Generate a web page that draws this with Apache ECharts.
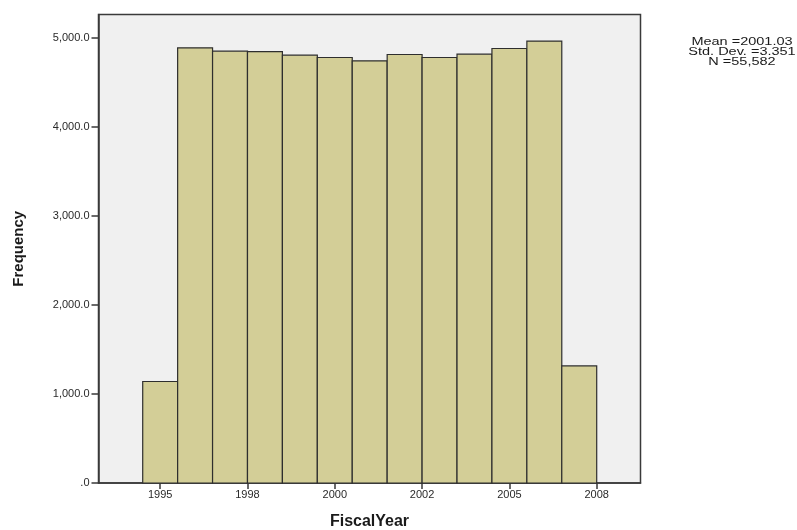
<!DOCTYPE html>
<html>
<head>
<meta charset="utf-8">
<script src="https://cdn.jsdelivr.net/npm/echarts@6/dist/echarts.min.js"></script>
<style>
html,body{margin:0;padding:0;background:#fff;}
#chart{width:797px;height:530px;}
</style>
</head>
<body>
<div id="chart"></div>
<script>
// Histogram bins (one per fiscal year) and their frequencies
var binYears = [1995,1996,1997,1998,1999,2000,2001,2002,2003,2004,2005,2006,2007];
var frequencies = [1140,4888,4850,4846,4805,4779,4742,4813,4779,4816,4880,4963,1315];
var binWidth = 1;

// X-axis tick positions and their labels (as shown in the original)
var xTickValues = [1995,1997.5,2000,2002.5,2005,2007.5];
var xTickLabels = ['1995','1998','2000','2002','2005','2008'];

// Y-axis ticks
var yTickValues = [0,1000,2000,3000,4000,5000];
var yTickLabels = ['.0','1,000.0','2,000.0','3,000.0','4,000.0','5,000.0'];

// Statistics box
var statLines = ['Mean =2001.03','Std. Dev. =3.351','N =55,582'];

var data = binYears.map(function(y,i){ return [y - binWidth/2, y + binWidth/2, frequencies[i]]; });

var chart = echarts.init(document.getElementById('chart'), null, {renderer:'canvas'});
var font = '"Liberation Sans", Arial, sans-serif';

var statGraphics = statLines.map(function(t,i){
  return {type:'text', x:742, y:42 + i*10, scaleX:1.45, scaleY:1,
    style:{text:t, fontFamily:font, fontSize:10, fill:'#1a1a1a', align:'center', verticalAlign:'middle'}};
});

chart.setOption({
  animation:false,
  backgroundColor:'#ffffff',
  grid:{left:98.5, right:156.5, top:14.5, bottom:47, show:true, outerBoundsMode:'none', containLabel:false,
    backgroundColor:'#f0f0f0', borderColor:'#3a3a3a', borderWidth:1.5},
  xAxis:{
    type:'value', min:1993.234, max:2008.754,
    name:'FiscalYear', nameLocation:'middle', nameGap:31,
    nameTextStyle:{fontFamily:font, fontSize:16, fontWeight:'bold', color:'#1a1a1a', verticalAlign:'top', padding:[0,0,0,0]},
    splitLine:{show:false},
    axisLine:{show:true, onZero:false, lineStyle:{color:'#3a3a3a', width:1.5}},
    axisTick:{show:true, customValues:xTickValues, length:6, inside:false, lineStyle:{color:'#3a3a3a', width:1.5}},
    axisLabel:{customValues:xTickValues, margin:6, fontFamily:font, fontSize:11, color:'#2a2a2a',
      formatter:function(v){ var i = xTickValues.indexOf(v); return i>=0 ? xTickLabels[i] : ''; }}
  },
  yAxis:{
    type:'value', min:0, max:5262,
    name:'Frequency', nameLocation:'middle', nameGap:72, nameRotate:90,
    nameTextStyle:{fontFamily:font, fontSize:15, fontWeight:'bold', color:'#1a1a1a'},
    splitLine:{show:false},
    axisLine:{show:true, lineStyle:{color:'#3a3a3a', width:1.5}},
    axisTick:{show:true, customValues:yTickValues, length:7, lineStyle:{color:'#3a3a3a', width:1.5}},
    axisLabel:{customValues:yTickValues, margin:9, fontFamily:font, fontSize:11, color:'#2a2a2a',
      formatter:function(v){ var i = yTickValues.indexOf(v); return i>=0 ? yTickLabels[i] : ''; }}
  },
  graphic:statGraphics,
  series:[{
    type:'custom',
    data:data,
    encode:{x:[0,1], y:2},
    renderItem:function(params, api){
      var p0 = api.coord([api.value(0), api.value(2)]);
      var p1 = api.coord([api.value(1), 0]);
      return {type:'rect', shape:{x:p0[0], y:p0[1], width:p1[0]-p0[0], height:p1[1]-p0[1]},
        style:{fill:'#d3ce97', stroke:'#2e2e2e', lineWidth:1.2}};
    }
  }]
});
</script>
</body>
</html>
